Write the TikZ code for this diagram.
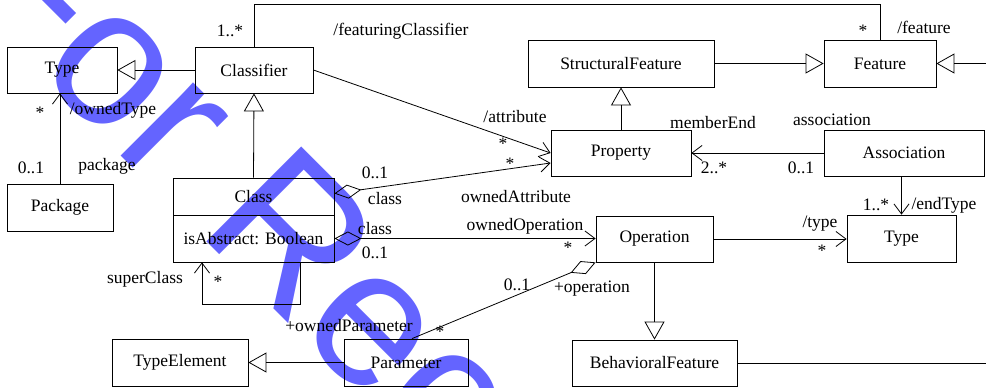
\documentclass[tikz,border=0pt]{standalone}
\usepackage{fontspec}
\setmainfont{Liberation Serif}
\newfontfamily\wmfont{Liberation Sans}
\usetikzlibrary{arrows.meta,calc}
\definecolor{wmblue}{RGB}{100,100,255}
\begin{document}
\begin{tikzpicture}[x=1pt,y=-1pt,
  every node/.style={font=\fontsize{17.5}{20}\selectfont, inner sep=0pt},
  box/.style={draw, line width=0.8pt, minimum width=#1},
  box/.default=100pt,
  ln/.style={line width=0.8pt},
  gen/.style={ln, -{Triangle[open,length=18pt,width=20pt]}},
  nav/.style={ln, -{Straight Barb[length=10pt,width=15pt]}},
  agg/.style={ln, {Diamond[open,length=27pt,width=14pt]}-},
  aggnav/.style={ln, {Diamond[open,length=27pt,width=14pt]}-{Straight Barb[length=10pt,width=15pt]}},
]
\useasboundingbox (0,0) rectangle (986,388);
\clip (0,0) rectangle (986,388);
\fill[white] (0,0) rectangle (986,388);

% watermark
\node[rotate=-45, anchor=base west, text=wmblue, font=\wmfont\fontsize{195}{195}\selectfont] (wm) at (-50,-15) {For Rec};

% boxes
\node[box=110pt, minimum height=46pt] (type) at (62,70) {Type};
\node[box=118pt, minimum height=46pt] (classifier) at (254,70) {Classifier};
\node[box=186pt, minimum height=47pt] (structf) at (621,63.5) {StructuralFeature};
\node[box=112pt, minimum height=47pt] (feature) at (880,63.5) {Feature};
\node[box=140pt, minimum height=46pt] (property) at (621,153) {Property};
\node[box=160pt, minimum height=46pt] (association) at (904,153) {Association};
\node[box=106pt, minimum height=47pt] (package) at (60,207.5) {Package};
\node[box=161pt, minimum height=37pt] (clsname) at (253.5,196.5) {Class};
\node[box=161pt, minimum height=47pt] (clsattr) at (253.5,238.5) {isAbstract: Boolean};
\node[box=117pt, minimum height=46pt] (operation) at (654.5,239) {Operation};
\node[box=109pt, minimum height=47pt] (type2) at (901.5,238.5) {Type};
\node[box=136pt, minimum height=47pt] (typeel) at (180,362.5) {TypeElement};
\node[box=124pt, minimum height=47pt] (parameter) at (406,362.5) {Parameter};
\node[box=165pt, minimum height=46pt] (behav) at (654.5,363) {BehavioralFeature};

\coordinate (fr) at (992,63.5);
\coordinate (br) at (992,363);

% connectors
\draw[gen] (classifier.west) -- (type.east);
\draw[gen] (clsname.north) -- (classifier.south);
\draw[gen] (property.north) -- (structf.south);
\draw[gen] (structf.east) -- (feature.west);
\draw[gen] (fr) -- (feature.east);
\draw[gen] (operation.south) -- (behav.north);
\draw[gen] (parameter.west) -- (typeel.east);
\draw[ln] (behav.east) -- (br);
\draw[ln] (classifier.north) -- ++(0,-42) -| (feature.north);
\draw[agg, -{Straight Barb[length=10pt,width=15pt]}] (package.north) -- (package.north |- type.south);
\draw[nav] (classifier.east) -- (property.west);
\draw[aggnav] ([yshift=3pt]clsname.east) -- ([yshift=-10pt]property.west);
\draw[aggnav] (clsattr.east) -- (clsattr.east -| operation.west);
\draw[agg] (operation.south west) -- ([xshift=6pt]parameter.north);
\draw[nav] (operation.east) -- (operation.east -| type2.west);
\draw[nav] (association.west) -- (property.east);
\draw[nav] (association.south -| type2.north) -- (type2.north);
\draw[nav] ([xshift=46.5pt]clsattr.south) -- ++(0,42) -| ([xshift=-51.5pt]clsattr.south);

% labels
\node (l1) at (230,31) {1..*};
\node (l2) at (401,31) {/featuringClassifier};
\node (l3) at (863,31) {*};
\node (l4) at (924,27) {/feature};
\node (l5) at (40,113) {*};
\node (l6) at (113,110) {/ownedType};
\node (l7) at (31,168) {0..1};
\node (l8) at (107,166) {package};
\node (l9) at (515,117) {/attribute};
\node (l10) at (503,144) {*};
\node (l11) at (510,164) {*};
\node (l12) at (713,123) {memberEnd};
\node (l13) at (832,120) {association};
\node (l14) at (714,168) {2..*};
\node (l15) at (801,168) {0..1};
\node (l16) at (375,173) {0..1};
\node (l17) at (385,199) {class};
\node (l18) at (516,197) {ownedAttribute};
\node (l19) at (375,229) {class};
\node (l20) at (525,226) {ownedOperation};
\node (l21) at (375,253) {0..1};
\node (l22) at (568,248) {*};
\node (l23) at (876,205) {1..*};
\node (l24) at (944,205) {/endType};
\node (l25) at (820,224) {/type};
\node (l26) at (822,251) {*};
\node (l27) at (517,285) {0..1};
\node (l28) at (592,289) {+operation};
\node (l29) at (145,279) {superClass};
\node (l30) at (218,282) {*};
\node (l31) at (349,326) {+ownedParameter};
\node (l32) at (440,332) {*};
\end{tikzpicture}
\end{document}
